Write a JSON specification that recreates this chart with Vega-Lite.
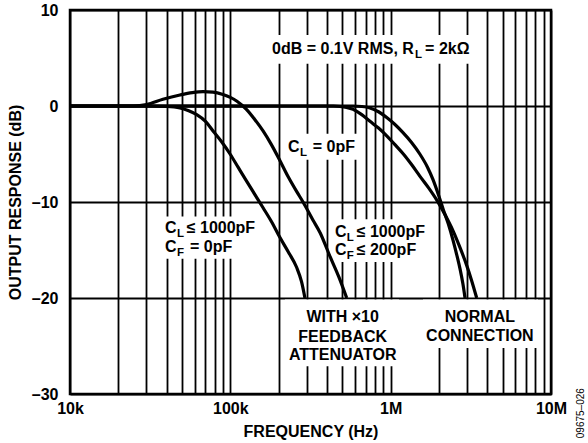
{
  "$schema": "https://vega.github.io/schema/vega-lite/v6.json",
  "width": 481,
  "height": 384,
  "autosize": {"type": "none"},
  "padding": {"left": 70, "top": 10, "right": 37, "bottom": 49},
  "background": "white",
  "config": {
    "view": {"stroke": "black", "strokeWidth": 2.5},
    "font": "Liberation Sans",
    "axis": {
      "labelFont": "Liberation Sans", "labelFontWeight": "bold", "labelFontSize": 16, "labelColor": "black",
      "titleFont": "Liberation Sans", "titleFontWeight": "bold", "titleFontSize": 16, "titleColor": "black",
      "gridColor": "black", "gridOpacity": 1, "gridWidth": 1.8, "domain": false, "ticks": false
    }
  },
  "datasets": {
    "curves": [
      {"series": "A", "freq": 10000, "db": 0}, {"series": "A", "freq": 30000, "db": 0}, {"series": "A", "freq": 40000, "db": -0.05},
      {"series": "A", "freq": 48500, "db": -0.2}, {"series": "A", "freq": 55000, "db": -0.5}, {"series": "A", "freq": 61700, "db": -0.9},
      {"series": "A", "freq": 70000, "db": -1.6}, {"series": "A", "freq": 78000, "db": -2.6}, {"series": "A", "freq": 88000, "db": -3.7},
      {"series": "A", "freq": 99600, "db": -5}, {"series": "A", "freq": 112000, "db": -6.4}, {"series": "A", "freq": 126000, "db": -7.8},
      {"series": "A", "freq": 142000, "db": -9.2}, {"series": "A", "freq": 160000, "db": -10.6}, {"series": "A", "freq": 180000, "db": -12.0},
      {"series": "A", "freq": 204000, "db": -13.7}, {"series": "A", "freq": 230000, "db": -15.2}, {"series": "A", "freq": 259000, "db": -16.8},
      {"series": "A", "freq": 278000, "db": -18.3}, {"series": "A", "freq": 292000, "db": -20},
      {"series": "B", "freq": 10000, "db": 0}, {"series": "B", "freq": 25000, "db": 0}, {"series": "B", "freq": 30000, "db": 0.15},
      {"series": "B", "freq": 38000, "db": 0.7}, {"series": "B", "freq": 48500, "db": 1.15}, {"series": "B", "freq": 58000, "db": 1.4},
      {"series": "B", "freq": 67600, "db": 1.5}, {"series": "B", "freq": 78000, "db": 1.45}, {"series": "B", "freq": 90000, "db": 1.2},
      {"series": "B", "freq": 100000, "db": 0.9}, {"series": "B", "freq": 110000, "db": 0.5}, {"series": "B", "freq": 126000, "db": -0.35},
      {"series": "B", "freq": 142000, "db": -1.4}, {"series": "B", "freq": 160000, "db": -2.6}, {"series": "B", "freq": 180000, "db": -4.0},
      {"series": "B", "freq": 204000, "db": -5.7}, {"series": "B", "freq": 230000, "db": -7.4}, {"series": "B", "freq": 259000, "db": -8.9},
      {"series": "B", "freq": 284000, "db": -10}, {"series": "B", "freq": 328000, "db": -11.9}, {"series": "B", "freq": 363000, "db": -13.2},
      {"series": "B", "freq": 419000, "db": -15.7}, {"series": "B", "freq": 475000, "db": -17.8}, {"series": "B", "freq": 532000, "db": -20},
      {"series": "C", "freq": 10000, "db": 0}, {"series": "C", "freq": 440000, "db": 0}, {"series": "C", "freq": 483000, "db": -0.05},
      {"series": "C", "freq": 530000, "db": -0.15}, {"series": "C", "freq": 583000, "db": -0.35}, {"series": "C", "freq": 660000, "db": -0.9},
      {"series": "C", "freq": 743000, "db": -1.6}, {"series": "C", "freq": 840000, "db": -2.3}, {"series": "C", "freq": 945000, "db": -3.1},
      {"series": "C", "freq": 1060000, "db": -4}, {"series": "C", "freq": 1200000, "db": -5}, {"series": "C", "freq": 1350000, "db": -6.1},
      {"series": "C", "freq": 1520000, "db": -7.3}, {"series": "C", "freq": 1720000, "db": -8.5}, {"series": "C", "freq": 1940000, "db": -9.8},
      {"series": "C", "freq": 2180000, "db": -11.3}, {"series": "C", "freq": 2450000, "db": -13}, {"series": "C", "freq": 2700000, "db": -14.7},
      {"series": "C", "freq": 2980000, "db": -16.6}, {"series": "C", "freq": 3200000, "db": -18.2}, {"series": "C", "freq": 3440000, "db": -20},
      {"series": "D", "freq": 10000, "db": 0}, {"series": "D", "freq": 583000, "db": 0}, {"series": "D", "freq": 660000, "db": -0.05},
      {"series": "D", "freq": 743000, "db": -0.2}, {"series": "D", "freq": 840000, "db": -0.6}, {"series": "D", "freq": 945000, "db": -1.2},
      {"series": "D", "freq": 1060000, "db": -1.9}, {"series": "D", "freq": 1190000, "db": -2.75}, {"series": "D", "freq": 1350000, "db": -3.8},
      {"series": "D", "freq": 1520000, "db": -5}, {"series": "D", "freq": 1700000, "db": -6.4}, {"series": "D", "freq": 1840000, "db": -7.7},
      {"series": "D", "freq": 2000000, "db": -9.4}, {"series": "D", "freq": 2130000, "db": -10.8}, {"series": "D", "freq": 2290000, "db": -12.3},
      {"series": "D", "freq": 2450000, "db": -14.0}, {"series": "D", "freq": 2600000, "db": -15.7}, {"series": "D", "freq": 2710000, "db": -17.0},
      {"series": "D", "freq": 2820000, "db": -18.5}, {"series": "D", "freq": 2910000, "db": -20}
    ],
    "boxes": [
      {"f1": 172000, "f2": 3400000, "d1": 7.4, "d2": 4.4},
      {"f1": 216000, "f2": 625000, "d1": -2.9, "d2": -5.6},
      {"f1": 36400, "f2": 157600, "d1": -11.5, "d2": -15.9},
      {"f1": 412000, "f2": 1945000, "d1": -11.8, "d2": -16.25},
      {"f1": 219000, "f2": 1127000, "d1": -20.15, "d2": -27.1},
      {"f1": 1590000, "f2": 8300000, "d1": -20.15, "d2": -25.2}
    ],
    "leftText": [
      {"text": "0dB = 0.1V RMS, R", "freq": 182000, "db": 5.42},
      {"text": "= 2kΩ", "freq": 1640000, "db": 5.42},
      {"text": "C", "freq": 229000, "db": -4.79},
      {"text": "= 0pF", "freq": 327000, "db": -4.79},
      {"text": "C", "freq": 39100, "db": -13.23},
      {"text": "≤ 1000pF", "freq": 53500, "db": -13.23},
      {"text": "C", "freq": 39100, "db": -15.21},
      {"text": "= 0pF", "freq": 56000, "db": -15.21},
      {"text": "C", "freq": 450000, "db": -13.6},
      {"text": "≤ 1000pF", "freq": 614000, "db": -13.6},
      {"text": "C", "freq": 450000, "db": -15.52},
      {"text": "≤ 200pF", "freq": 614000, "db": -15.52}
    ],
    "subText": [
      {"text": "L", "freq": 1420000, "db": 5.0},
      {"text": "L", "freq": 272000, "db": -5.21},
      {"text": "L", "freq": 46500, "db": -13.65},
      {"text": "F", "freq": 46500, "db": -15.6},
      {"text": "L", "freq": 532000, "db": -14.06},
      {"text": "F", "freq": 532000, "db": -15.94}
    ],
    "centerText": [
      {"text": "WITH ×10", "freq": 502000, "db": -22.53},
      {"text": "FEEDBACK", "freq": 502000, "db": -24.55},
      {"text": "ATTENUATOR", "freq": 502000, "db": -26.49},
      {"text": "NORMAL", "freq": 3600000, "db": -22.53},
      {"text": "CONNECTION", "freq": 3600000, "db": -24.48}
    ],
    "stamp": [
      {"text": "09675–026", "freq": 15400000, "db": -32}
    ]
  },
  "encoding": {
    "x": {
      "field": "freq", "type": "quantitative",
      "scale": {"type": "log", "domain": [10000, 10000000], "nice": false},
      "axis": {
        "title": "FREQUENCY (Hz)",
        "values": [10000, 20000, 30000, 40000, 50000, 60000, 70000, 80000, 90000,
                   100000, 200000, 300000, 400000, 500000, 600000, 700000, 800000, 900000,
                   1000000, 2000000, 3000000, 4000000, 5000000, 6000000, 7000000, 8000000, 9000000, 10000000],
        "labelExpr": "datum.value == 10000 ? '10k' : datum.value == 100000 ? '100k' : datum.value == 1000000 ? '1M' : datum.value == 10000000 ? '10M' : ''",
        "labelOverlap": false, "labelFlush": false, "labelPadding": 6, "titlePadding": 7
      }
    },
    "y": {
      "field": "db", "type": "quantitative",
      "scale": {"domain": [-30, 10], "nice": false},
      "axis": {
        "title": "OUTPUT RESPONSE (dB)",
        "values": [-30, -20, -10, 0, 10],
        "labelExpr": "datum.value < 0 ? '–' + (-datum.value) : '' + datum.value",
        "labelPadding": 12, "titlePadding": 8
      }
    }
  },
  "layer": [
    {
      "data": {"name": "boxes"},
      "mark": {"type": "rect", "fill": "white", "stroke": null},
      "encoding": {
        "x": {"field": "f1", "type": "quantitative"},
        "x2": {"field": "f2"},
        "y": {"field": "d1", "type": "quantitative"},
        "y2": {"field": "d2"}
      }
    },
    {
      "data": {"name": "curves"},
      "mark": {"type": "line", "color": "black", "strokeWidth": 3.2, "interpolate": "monotone"},
      "encoding": {"detail": {"field": "series"}}
    },
    {
      "data": {"name": "leftText"},
      "mark": {"type": "text", "align": "left", "baseline": "alphabetic", "fontSize": 16, "fontWeight": "bold", "color": "black"},
      "encoding": {"text": {"field": "text"}}
    },
    {
      "data": {"name": "subText"},
      "mark": {"type": "text", "align": "left", "baseline": "alphabetic", "fontSize": 11.5, "fontWeight": "bold", "color": "black"},
      "encoding": {"text": {"field": "text"}}
    },
    {
      "data": {"name": "centerText"},
      "mark": {"type": "text", "align": "center", "baseline": "alphabetic", "fontSize": 16, "fontWeight": "bold", "color": "black"},
      "encoding": {"text": {"field": "text"}}
    },
    {
      "data": {"name": "stamp"},
      "mark": {"type": "text", "align": "center", "baseline": "middle", "angle": 270, "fontSize": 10, "color": "black"},
      "encoding": {"text": {"field": "text"}}
    }
  ]
}
